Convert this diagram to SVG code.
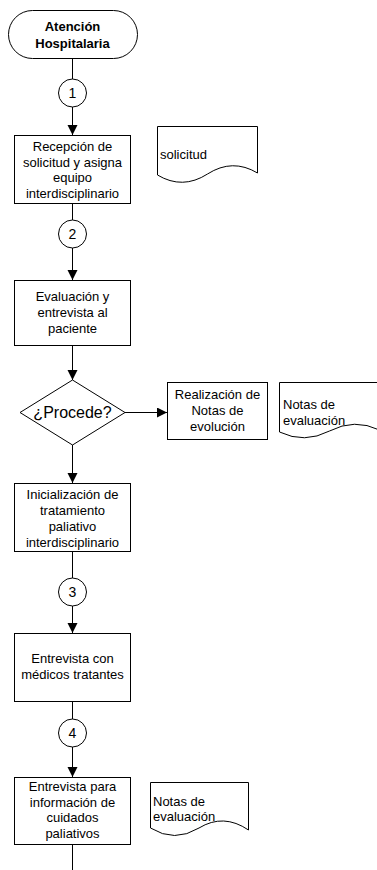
<svg xmlns="http://www.w3.org/2000/svg" width="377" height="870" viewBox="0 0 377 870">
<defs>
<style>
.s{fill:#fff;stroke:#000;stroke-width:1}
.t{font-family:"Liberation Sans",Arial,sans-serif;font-size:13px;fill:#000;text-anchor:middle}
.n{font-size:14px}
.l{text-anchor:start}
.b{font-weight:bold}
.c{fill:none;stroke:#000;stroke-width:1}
</style>
<marker id="ah" markerUnits="userSpaceOnUse" markerWidth="10" markerHeight="12" refX="10" refY="5" orient="auto">
<path d="M0,0 L10,5 L0,10 Z" fill="#000"/>
</marker>
</defs>
<rect width="377" height="870" fill="#fff"/>
<g id="connectors">
<path class="c" d="M72.5,58 V79"/>
<path class="c" d="M72.5,107 V135" marker-end="url(#ah)"/>
<path class="c" d="M72.5,203 V220"/>
<path class="c" d="M72.5,248 V280" marker-end="url(#ah)"/>
<path class="c" d="M72.5,345 V380" marker-end="url(#ah)"/>
<path class="c" d="M125,412.5 H167" marker-end="url(#ah)"/>
<path class="c" d="M72.5,444 V483" marker-end="url(#ah)"/>
<path class="c" d="M72.5,551 V578"/>
<path class="c" d="M72.5,606 V633" marker-end="url(#ah)"/>
<path class="c" d="M72.5,701 V719"/>
<path class="c" d="M72.5,747 V777" marker-end="url(#ah)"/>
<path class="c" d="M72.5,844 V870"/>
</g>
<g id="start">
<rect class="s" x="8.5" y="10.5" width="129" height="48" rx="24"/>
<text class="t b" x="72.5" y="31">Atención</text>
<text class="t b" x="72.5" y="48">Hospitalaria</text>
</g>
<g id="c1">
<circle class="s" cx="72.5" cy="93" r="14"/>
<text class="t n" x="72.5" y="98">1</text>
</g>
<g id="recepcion">
<rect class="s" x="14.5" y="135.5" width="116" height="68"/>
<text class="t" x="72.5" y="151">Recepción de</text>
<text class="t" x="72.5" y="167">solicitud y asigna</text>
<text class="t" x="72.5" y="182">equipo</text>
<text class="t" x="72.5" y="198">interdisciplinario</text>
</g>
<g id="doc-solicitud">
<path class="s" d="M157.5,126.5 H257.5 V173 Q232.5,158 207.5,174 Q182.5,190 157.5,175 Z"/>
<text class="t l" x="160" y="159">solicitud</text>
</g>
<g id="c2">
<circle class="s" cx="72.5" cy="234" r="14"/>
<text class="t n" x="72.5" y="239">2</text>
</g>
<g id="evaluacion">
<rect class="s" x="14.5" y="280.5" width="116" height="65"/>
<text class="t" x="72.5" y="301">Evaluación y</text>
<text class="t" x="72.5" y="317">entrevista al</text>
<text class="t" x="72.5" y="333">paciente</text>
</g>
<g id="procede">
<path class="s" d="M72.5,380 L125,412.5 L72.5,445 L20,412.5 Z"/>
<text class="t" style="font-size:16px" x="72.5" y="418">¿Procede?</text>
</g>
<g id="realizacion">
<rect class="s" x="167.5" y="382.5" width="100" height="57"/>
<text class="t" x="217.5" y="399">Realización de</text>
<text class="t" x="217.5" y="415">Notas de</text>
<text class="t" x="217.5" y="431">evolución</text>
</g>
<g id="doc-notas1">
<path class="s" d="M279.5,382.5 H379.5 V430 Q354.5,418 329.5,431 Q304.5,444 279.5,432 Z"/>
<text class="t l" x="283" y="409">Notas de</text>
<text class="t l" x="283" y="425">evaluación</text>
</g>
<g id="inicializacion">
<rect class="s" x="14.5" y="483.5" width="116" height="68"/>
<text class="t" x="72.5" y="499">Inicialización de</text>
<text class="t" x="72.5" y="515">tratamiento</text>
<text class="t" x="72.5" y="531">paliativo</text>
<text class="t" x="72.5" y="547">interdisciplinario</text>
</g>
<g id="c3">
<circle class="s" cx="72.5" cy="592" r="14"/>
<text class="t n" x="72.5" y="597">3</text>
</g>
<g id="entrevista-medicos">
<rect class="s" x="14.5" y="633.5" width="116" height="68"/>
<text class="t" x="72.5" y="663">Entrevista con</text>
<text class="t" x="72.5" y="679">médicos tratantes</text>
</g>
<g id="c4">
<circle class="s" cx="72.5" cy="733" r="14"/>
<text class="t n" x="72.5" y="738">4</text>
</g>
<g id="entrevista-info">
<rect class="s" x="14.5" y="777.5" width="116" height="67"/>
<text class="t" x="72.5" y="791">Entrevista para</text>
<text class="t" x="72.5" y="807">información de</text>
<text class="t" x="72.5" y="822">cuidados</text>
<text class="t" x="72.5" y="838">paliativos</text>
</g>
<g id="doc-notas2">
<path class="s" d="M150.5,782.5 H248.5 V830 Q223.5,813 199,828 Q174.5,843 150.5,828 Z"/>
<text class="t l" x="153" y="806">Notas de</text>
<text class="t l" x="153" y="821">evaluación</text>
</g>
</svg>
